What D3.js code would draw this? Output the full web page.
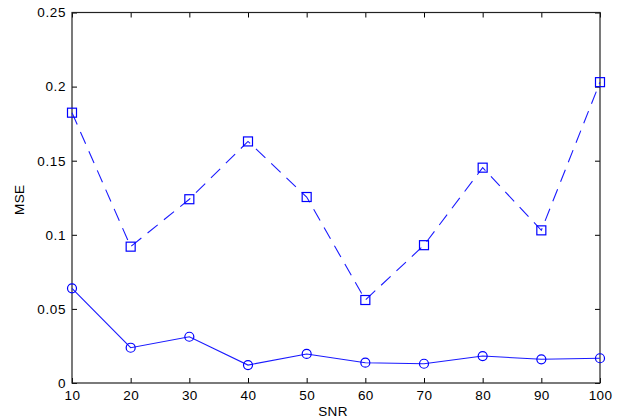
<!DOCTYPE html>
<html><head><meta charset="utf-8">
<script src="https://cdn.jsdelivr.net/npm/d3@7"></script>
<style>body{margin:0;background:#fff}svg{display:block}text{font-family:"Liberation Sans",Arial,sans-serif}</style>
</head><body>
<svg id="c" width="624" height="419"></svg>
<script>
const snr = [10,20,30,40,50,60,70,80,90,100];
const mseSquare = [0.1824,0.092,0.124,0.163,0.1255,0.056,0.093,0.1453,0.103,0.203];
const mseCircle = [0.0639,0.0238,0.0312,0.0121,0.0196,0.0137,0.0130,0.0182,0.0160,0.0167];
const xTicks = [10,20,30,40,50,60,70,80,90,100];
const yTicks = [0,0.05,0.1,0.15,0.2,0.25];
const yTickLabels = ["0","0.05","0.1","0.15","0.2","0.25"];

const L=72,R=600,T=12.5,B=383;
const svg=d3.select("#c");
const x=d3.scaleLinear().domain([10,100]).range([L,R]);
const y=d3.scaleLinear().domain([0,0.25]).range([B,T]);
const fs=13.5;

const ax=(g,axis)=>g.call(axis).call(s=>{s.select(".domain").remove();s.selectAll("line").attr("stroke","#000");});
svg.append("g").attr("transform",`translate(0,${B})`)
  .call(g=>ax(g,d3.axisBottom(x).tickValues(xTicks).tickSizeInner(-5).tickSizeOuter(0).tickPadding(7)))
  .selectAll("text").attr("font-size",fs).attr("fill","#000").attr("letter-spacing","0.4");
svg.append("g").attr("transform",`translate(0,${T})`)
  .call(g=>ax(g,d3.axisTop(x).tickValues(xTicks).tickSizeInner(-5).tickSizeOuter(0).tickFormat("")));
svg.append("g").attr("transform",`translate(${L},0)`)
  .call(g=>ax(g,d3.axisLeft(y).tickValues(yTicks).tickSizeInner(-5).tickSizeOuter(0).tickPadding(6).tickFormat((d,i)=>yTickLabels[i])))
  .selectAll("text").attr("font-size",fs).attr("fill","#000").attr("letter-spacing","0.6");
svg.append("g").attr("transform",`translate(${R},0)`)
  .call(g=>ax(g,d3.axisRight(y).tickValues(yTicks).tickSizeInner(-5).tickSizeOuter(0).tickFormat("")));

svg.append("rect").attr("x",L).attr("y",T).attr("width",R-L).attr("height",B-T)
  .attr("fill","none").attr("stroke","#222").attr("stroke-width",1.2);

const line=d3.line().x(d=>x(d[0])).y(d=>y(d[1]));
const sq=snr.map((s,i)=>[s,mseSquare[i]]);
const ci=snr.map((s,i)=>[s,mseCircle[i]]);
svg.append("path").datum(sq).attr("d",line).attr("fill","none").attr("stroke","#1a1aff")
  .attr("stroke-width",1.1).attr("stroke-dasharray","13,8");
svg.append("path").datum(ci).attr("d",line).attr("fill","none").attr("stroke","#1a1aff").attr("stroke-width",1.1);

svg.selectAll(".sq").data(sq).enter().append("rect")
  .attr("x",d=>x(d[0])-4.5).attr("y",d=>y(d[1])-4.5).attr("width",9).attr("height",9)
  .attr("fill","none").attr("stroke","#0000ff").attr("stroke-width",1.2);
svg.selectAll(".ci").data(ci).enter().append("circle")
  .attr("cx",d=>x(d[0])).attr("cy",d=>y(d[1])).attr("r",4.5)
  .attr("fill","none").attr("stroke","#0000ff").attr("stroke-width",1.2);

svg.append("text").attr("x",(L+R)/2-3).attr("y",416).attr("text-anchor","middle").attr("font-size",fs).attr("letter-spacing","0.4").text("SNR");
svg.append("text").attr("transform",`translate(24,${(T+B)/2+2}) rotate(-90)`).attr("text-anchor","middle").attr("font-size",fs).attr("letter-spacing","0.4").text("MSE");
</script>
</body></html>
